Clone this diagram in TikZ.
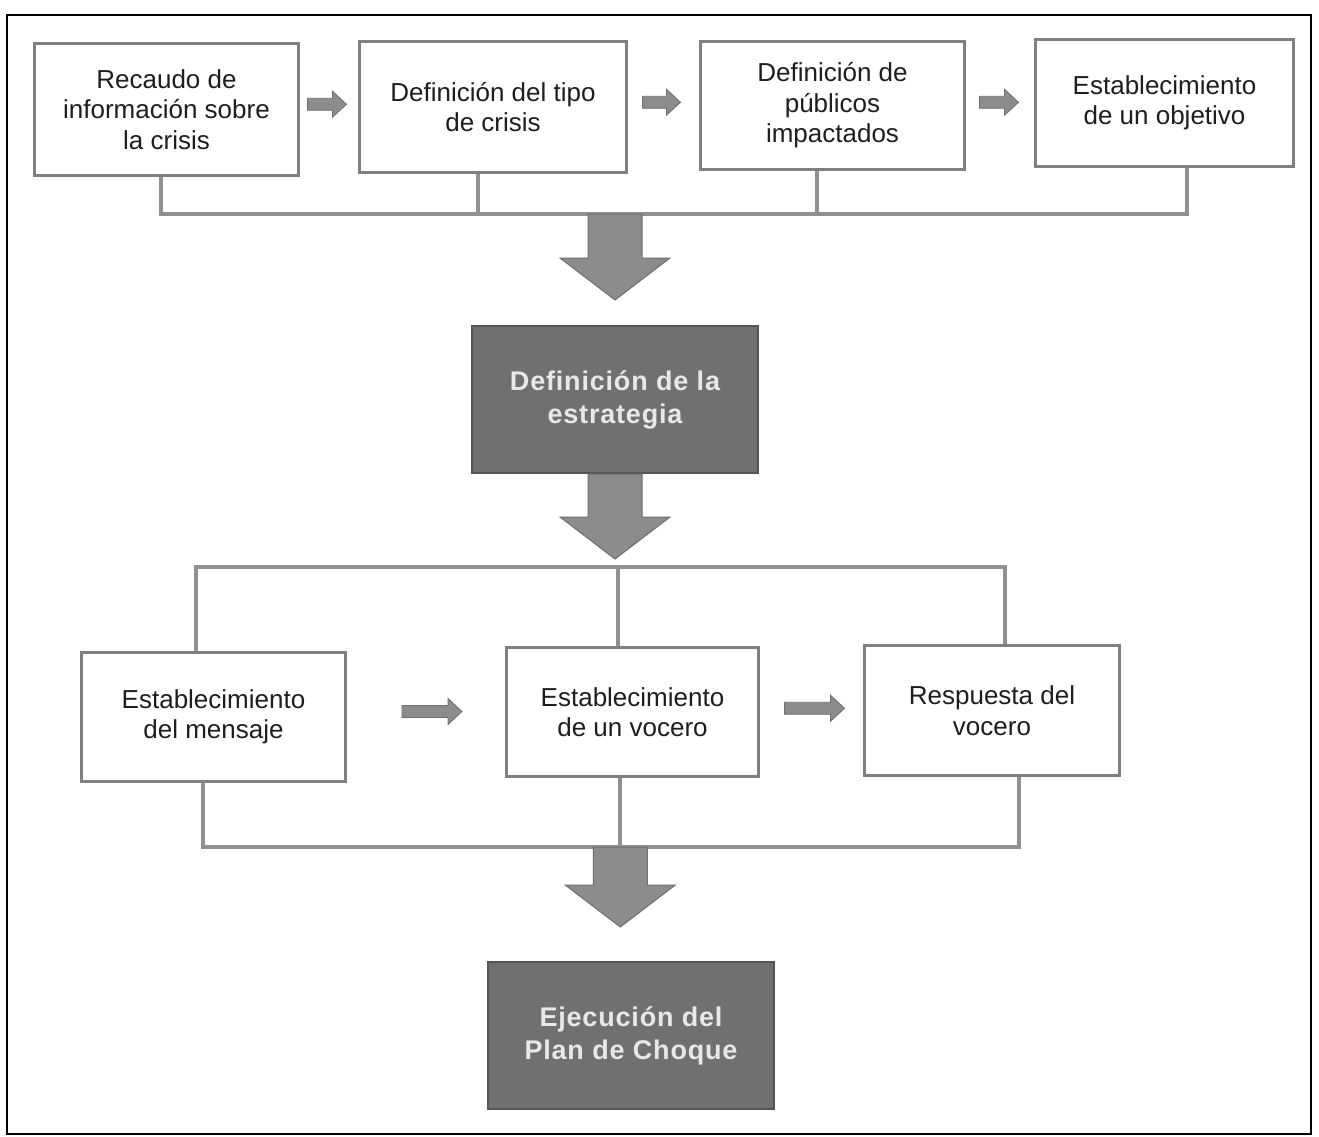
\documentclass[tikz,border=0pt]{standalone}
\usepackage{fontspec}
\setmainfont{Liberation Sans}
\usetikzlibrary{calc}
\definecolor{boxedge}{HTML}{808080}
\definecolor{busgray}{HTML}{909090}
\definecolor{arrowfill}{HTML}{8C8C8C}
\definecolor{arrowedge}{HTML}{6E6E6E}
\definecolor{darkfill}{HTML}{707070}
\definecolor{darkedge}{HTML}{555555}
\definecolor{lighttext}{HTML}{E8E8E8}
\definecolor{inktext}{HTML}{1E1E1E}
\tikzset{
  pics/smallarr/.style={code={
    \filldraw[fill=arrowfill, draw=arrowedge, line width=0.8pt]
      (-#1/2,-6) -- (#1/2-14,-6) -- (#1/2-14,-13) -- (#1/2,0) -- (#1/2-14,13)
      -- (#1/2-14,6) -- (-#1/2,6) -- cycle;}},
  pics/bigarr/.style={code={
    \filldraw[fill=arrowfill, draw=arrowedge, line width=1pt]
      (-27,0) -- (27,0) -- (27,#1) -- (55,#1) -- (0,#1+42) -- (-55,#1)
      -- (-27,#1) -- cycle;}}
}
\begin{document}
\begin{tikzpicture}[x=1pt,y=-1pt,
  whitebox/.style={draw=boxedge, line width=3pt, fill=white, align=center,
    text=inktext, font=\fontsize{26}{30.5}\selectfont, inner sep=0pt, anchor=north west},
  darkbox/.style={draw=darkedge, line width=2pt, fill=darkfill, align=center,
    text=lighttext, font=\fontsize{27}{33}\selectfont\bfseries\addfontfeature{LetterSpace=3}, inner sep=0pt, anchor=north west},
  bus/.style={draw=busgray, line width=4pt, line join=miter}
]
\useasboundingbox (0,0) rectangle (1319,1136);
\fill[white] (0,0) rectangle (1319,1136);
\draw[black, line width=2pt] (7,15) rectangle (1311,1134);

% boxes
\node[whitebox, minimum width=264pt, minimum height=132pt] (b1) at (33,42)
  {Recaudo de\\información sobre\\la crisis};
\node[whitebox, minimum width=267pt, minimum height=131pt] (b2) at (358,40)
  {Definición del tipo\\de crisis};
\node[whitebox, minimum width=264pt, minimum height=128pt] (b3) at (699,40)
  {Definición de\\públicos\\impactados};
\node[whitebox, minimum width=258pt, minimum height=127pt] (b4) at (1034,38)
  {Establecimiento\\de un objetivo};
\node[darkbox, minimum width=286pt, minimum height=147pt] (d1) at (471,325)
  {Definición de la\\estrategia};
\node[whitebox, minimum width=264pt, minimum height=129pt] (b5) at (80,651)
  {Establecimiento\\del mensaje};
\node[whitebox, minimum width=252pt, minimum height=129pt] (b6) at (505,646)
  {Establecimiento\\de un vocero};
\node[whitebox, minimum width=255pt, minimum height=130pt] (b7) at (863,644)
  {Respuesta del\\vocero};
\node[darkbox, minimum width=286pt, minimum height=147pt] (d2) at (487,961)
  {Ejecución del\\Plan de Choque};

% bus levels
\coordinate (busA) at (0,214);
\coordinate (busB) at (0,567);
\coordinate (busC) at (0,847);

% top bus
\coordinate (p1) at ($(b1.south west)!0.48!(b1.south east)$);
\coordinate (p2) at ($(b2.south west)!0.446!(b2.south east)$);
\coordinate (p3) at ($(b3.south west)!0.443!(b3.south east)$);
\coordinate (p4) at ($(b4.south west)!0.585!(b4.south east)$);
\draw[bus] (p1) -- (p1 |- busA) -- (p4 |- busA) -- (p4);
\draw[bus] (p2) -- (p2 |- busA);
\draw[bus] (p3) -- (p3 |- busA);

% middle bus
\coordinate (q5) at ($(b5.north west)!0.436!(b5.north east)$);
\coordinate (q6) at ($(b6.north west)!0.444!(b6.north east)$);
\coordinate (q7) at ($(b7.north west)!0.549!(b7.north east)$);
\draw[bus] (q5) -- (q5 |- busB) -- (q7 |- busB) -- (q7);
\draw[bus] (q6) -- (q6 |- busB);

% bottom bus
\coordinate (r5) at ($(b5.south west)!0.462!(b5.south east)$);
\coordinate (r6) at ($(b6.south west)!0.452!(b6.south east)$);
\coordinate (r7) at ($(b7.south west)!0.604!(b7.south east)$);
\draw[bus] (r5) -- (r5 |- busC) -- (r7 |- busC) -- (r7);
\draw[bus] (r6) -- (r6 |- busC);

% big arrows
\pic at (d1.north |- busA) {bigarr=44};
\pic at (d1.south) {bigarr=43};
\pic at (r6 |- busC) {bigarr=38};

% small arrows
\pic at ($(b1.east)!0.5!(b2.west)+(-2,-4)$) {smallarr=39};
\pic at ($(b2.east)!0.5!(b3.west)+(-2,-4)$) {smallarr=38};
\pic at ($(b3.east)!0.5!(b4.west)+(-1,-2)$) {smallarr=39};
\pic at ($(b5.east)!0.5!(b6.west)+(6,-3)$) {smallarr=60};
\pic at ($(b6.east)!0.5!(b7.west)+(3,-3)$) {smallarr=60};
\end{tikzpicture}
\end{document}
